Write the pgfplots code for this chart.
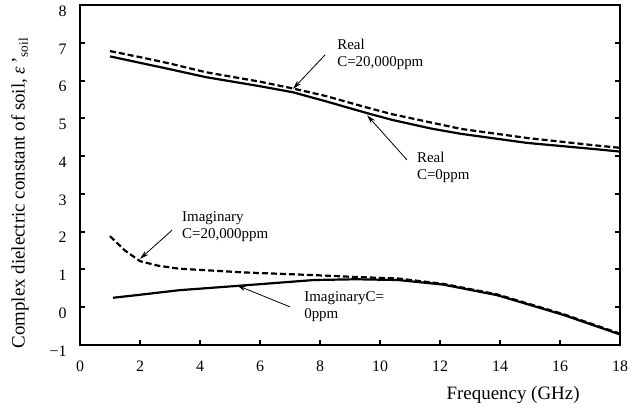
\documentclass[border=0pt]{standalone}
\usepackage{fontspec}
\setmainfont{Liberation Serif}
\usepackage{pgfplots}
\pgfplotsset{compat=1.18}
\usetikzlibrary{arrows.meta}
\begin{document}
\begin{tikzpicture}
\useasboundingbox (-80bp,-67bp) rectangle (553bp,345bp);
\begin{axis}[
  scale only axis, width=540bp, height=340bp,
  xmin=0, xmax=18, ymin=-1, ymax=8,
  xtick={0,2,...,18}, ytick={-1,0,...,8},
  yticklabels={−1,0,1,2,3,4,5,6,7,8},
  xtick pos=bottom, ytick pos=both,
  axis line style={line width=2.5bp},
  major tick style={line width=2bp, black},
  major tick length=5bp,
  tick align=inside,
  /pgf/number format/assume math mode=true,
  ticklabel style={font=\fontsize{16}{18}\selectfont},
  yticklabel style={xshift=-10bp, yshift=-6bp},
  xticklabel style={yshift=-12bp},
  xlabel={Frequency (GHz)},
  ylabel={Complex dielectric constant of soil, \textit{ε}\,'\textsubscript{soil}},
  xlabel style={font=\fontsize{19}{22}\selectfont, at={(axis description cs:0.802,-0.147)}, anchor=center},
  ylabel style={font=\fontsize{19}{22}\selectfont, at={(axis description cs:-0.111,0.447)}, anchor=center},
  clip=false,
  every axis plot/.append style={line width=2.2bp, black, no marks},
]
% Real, C=0 ppm
\addplot[solid] coordinates {(1,6.64) (2,6.47) (3,6.30) (4.2,6.09) (6,5.85) (7.1,5.69) (8.2,5.45) (9.56,5.14) (10.4,4.96) (11.7,4.73) (12.7,4.59) (14.9,4.35) (17.1,4.19) (18,4.12)};
% Real, C=20,000 ppm
\addplot[dash pattern=on 6bp off 3bp] coordinates {(1,6.78) (2,6.62) (3,6.45) (4.2,6.22) (6,5.97) (7.1,5.79) (8.2,5.59) (9.5,5.30) (10.4,5.11) (11.7,4.89) (12.7,4.72) (14.9,4.48) (17.1,4.29) (18,4.22)};
% Imaginary, C=0 ppm
\addplot[solid] coordinates {(1.1,0.25) (2,0.33) (3.3,0.45) (5.5,0.58) (7.8,0.72) (9.2,0.74) (10.6,0.72) (12.1,0.60) (13.9,0.32) (16.1,-0.20) (18,-0.72)};
% Imaginary, C=20,000 ppm
\addplot[dash pattern=on 6bp off 3bp] coordinates {(1,1.88) (1.5,1.50) (2,1.22) (2.6,1.10) (3.3,1.02) (5.5,0.92) (7.8,0.85) (9.2,0.80) (10.6,0.76) (12.1,0.62) (13.9,0.34) (16.1,-0.18) (18,-0.70)};

\begin{scope}[every node/.style={font=\fontsize{15}{17}\selectfont, align=left, anchor=west, inner sep=0pt}]
\node at (axis cs:8.57,6.68) {Real\\C=20,000ppm};
\node at (axis cs:11.23,3.70) {Real\\C=0ppm};
\node at (axis cs:3.4,2.14) {Imaginary\\C=20,000ppm};
\node at (axis cs:7.47,0.01) {ImaginaryC=\\0ppm};
\end{scope}
\begin{scope}[line width=0.8bp, -{Stealth[length=9bp,width=5bp]}]
\draw (axis cs:8.17,6.68) -- (axis cs:7.1,5.78);
\draw (axis cs:10.9,3.90) -- (axis cs:9.57,5.08);
\draw (axis cs:3.07,2.04) -- (axis cs:2.0,1.28);
\draw (axis cs:7.0,0.01) -- (axis cs:5.23,0.58);
\end{scope}
\end{axis}
\end{tikzpicture}
\end{document}
